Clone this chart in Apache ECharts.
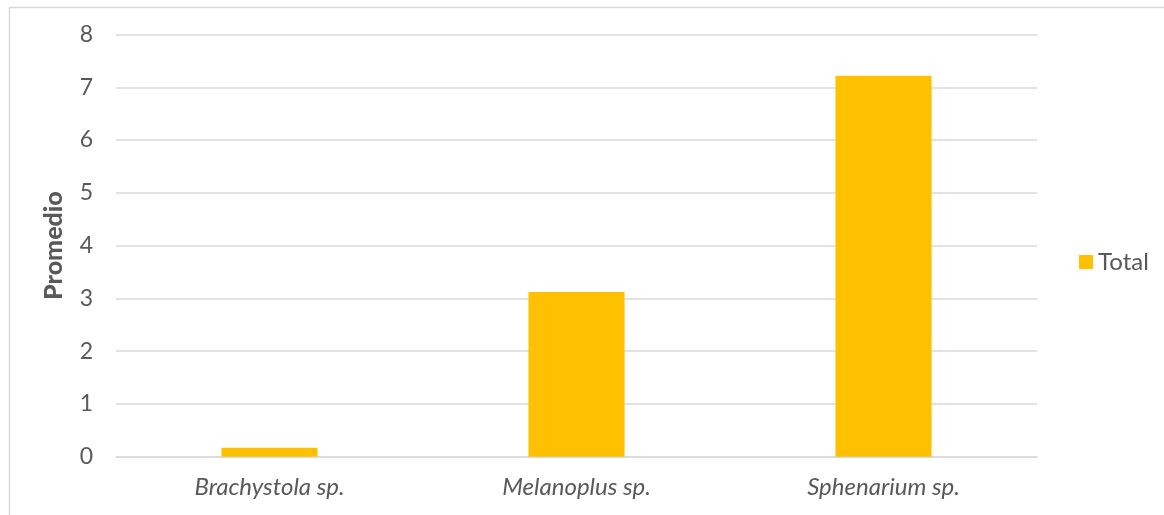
<!DOCTYPE html>
<html>
<head>
<meta charset="utf-8">
<script src="https://cdn.jsdelivr.net/npm/echarts@6/dist/echarts.min.js"></script>
<style>
html,body{margin:0;padding:0;background:#fff;}
#chart{width:1164px;height:515px;}
</style>
</head>
<body>
<div id="chart"></div>
<script>
var categories = ['Brachystola sp.', 'Melanoplus sp.', 'Sphenarium sp.'];
var totalValues = [0.17, 3.12, 7.22];
var seriesName = 'Total';
var yAxisTitle = 'Promedio';

var FONT = 'Lato, "Open Sans", sans-serif';
var chart = echarts.init(document.getElementById('chart'), null, {renderer: 'canvas'});
chart.setOption({
  animation: false,
  backgroundColor: '#ffffff',
  graphic: [{
    type: 'rect', left: 7, top: 5, silent: true,
    shape: {width: 1300, height: 700},
    style: {fill: 'none', stroke: '#d9d9d9', lineWidth: 1.5}
  }],
  grid: {left: 116, right: 127, top: 34.5, bottom: 58.3, containLabel: false},
  legend: {
    data: [seriesName],
    orient: 'vertical',
    left: 1079, top: 250,
    padding: 0,
    itemWidth: 14, itemHeight: 14, itemGap: 6,
    icon: 'rect',
    textStyle: {fontFamily: FONT, fontSize: 24, color: '#595959'}
  },
  xAxis: {
    type: 'category',
    data: categories,
    axisLine: {show: true, lineStyle: {color: '#d9d9d9', width: 1.5}},
    axisTick: {show: false},
    axisLabel: {fontFamily: FONT, fontStyle: 'italic', fontSize: 24, color: '#595959', margin: 19}
  },
  yAxis: {
    type: 'value',
    min: 0, max: 8, interval: 1,
    name: yAxisTitle,
    nameLocation: 'middle',
    nameGap: 50,
    nameRotate: 90,
    nameTextStyle: {fontFamily: FONT, fontWeight: 900, fontSize: 25, color: '#595959'},
    axisLine: {show: false},
    axisTick: {show: false},
    axisLabel: {fontFamily: FONT, fontSize: 23, color: '#595959', margin: 23},
    splitLine: {lineStyle: {color: '#d9d9d9', width: 1.5}}
  },
  series: [{
    name: seriesName,
    type: 'bar',
    data: totalValues,
    barWidth: '31.3%',
    itemStyle: {color: '#FFC000'}
  }]
});
</script>
</body>
</html>
